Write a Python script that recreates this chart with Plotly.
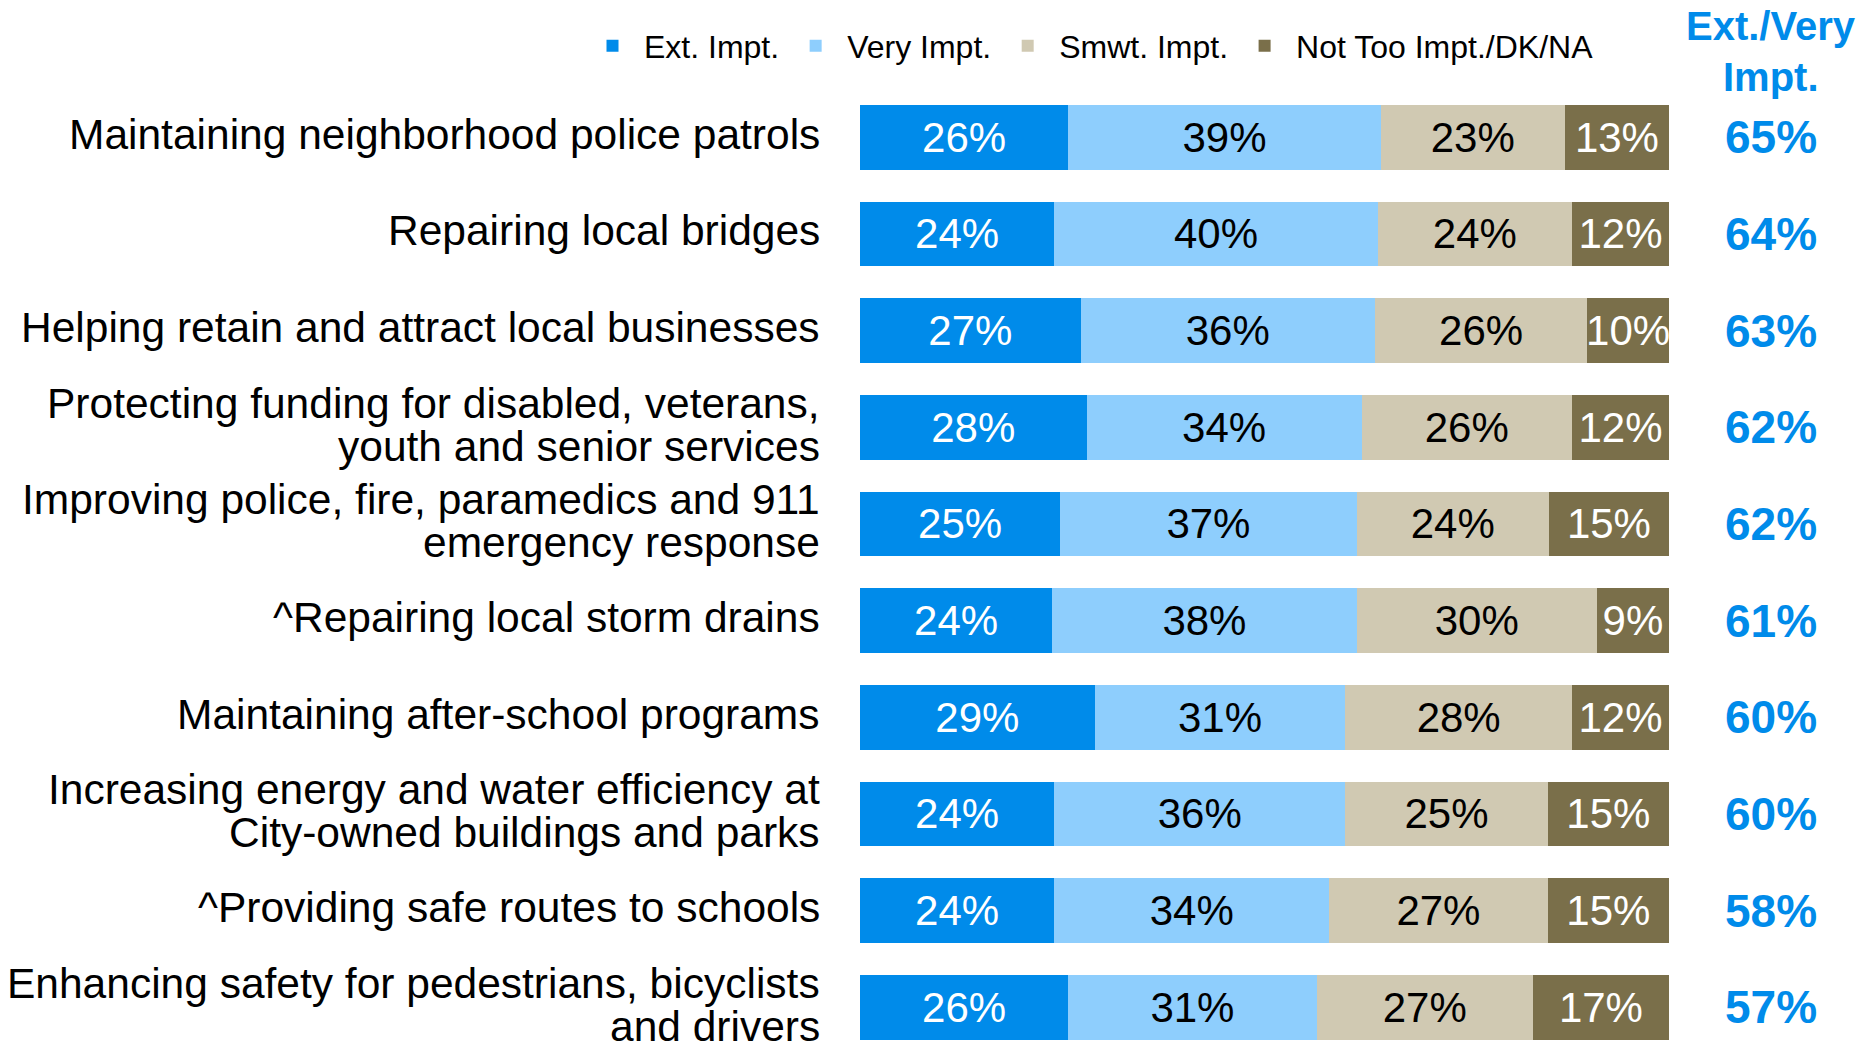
import plotly.graph_objects as go

categories = [
    "Maintaining neighborhood police patrols",
    "Repairing local bridges",
    "Helping retain and attract local businesses",
    "Protecting funding for disabled, veterans,<br>youth and senior services",
    "Improving police, fire, paramedics and 911<br>emergency response",
    "^Repairing local storm drains",
    "Maintaining after-school programs",
    "Increasing energy and water efficiency at<br>City-owned buildings and parks",
    "^Providing safe routes to schools",
    "Enhancing safety for pedestrians, bicyclists<br>and drivers",
]
ext_impt = [26, 24, 27, 28, 25, 24, 29, 24, 24, 26]
very_impt = [39, 40, 36, 34, 37, 38, 31, 36, 34, 31]
smwt_impt = [23, 24, 26, 26, 24, 30, 28, 25, 27, 27]
not_too = [13, 12, 10, 12, 15, 9, 12, 15, 15, 17]
ext_very_total = [65, 64, 63, 62, 62, 61, 60, 60, 58, 57]

series_names = ["Ext. Impt.", "Very Impt.", "Smwt. Impt.", "Not Too Impt./DK/NA"]
series_values = [ext_impt, very_impt, smwt_impt, not_too]
series_colors = ["#008BEA", "#8ECEFD", "#D0C9B2", "#7A6F4A"]
text_colors = ["white", "black", "black", "white"]

FONT = "Liberation Sans, Arial, sans-serif"
OFF = 8  # page body margin in the browser
W, H = 1864 - OFF, 1043 - OFF
ML, MR, MT, MB = 860 - OFF, 195, 89 - OFF, 0
plot_w = W - ML - MR
plot_h = H - MT - MB

fig = go.Figure()
for name, vals, col, tcol in zip(series_names, series_values, series_colors, text_colors):
    fig.add_trace(go.Bar(
        y=categories, x=vals, name=name, orientation="h",
        marker=dict(color=col, line=dict(width=0)),
        text=[f"{v}%" for v in vals], textposition="inside",
        insidetextanchor="middle", textangle=0, constraintext="none",
        textfont=dict(family=FONT, size=42, color=tcol),
        hoverinfo="name+x",
    ))

right_x = (1771 - OFF - ML) / plot_w

annotations = []
for cat, tot in zip(categories, ext_very_total):
    lines = cat.split("<br>")
    if len(lines) == 1:
        shifts = [3]
    else:
        shifts = [24, -19]
    for line, sh in zip(lines, shifts):
        annotations.append(dict(
            text=line, xref="paper", x=0, xanchor="right", xshift=-38,
            yref="y", y=cat, yanchor="middle", yshift=sh, showarrow=False,
            font=dict(family=FONT, size=42.5, color="black"),
        ))
    annotations.append(dict(
        text=f"<b>{tot}%</b>", xref="paper", x=right_x, xanchor="center",
        yref="y", y=cat, yanchor="middle", yshift=0, showarrow=False,
        font=dict(family=FONT, size=46, color="#008BEA"),
    ))

for txt, py in [("Ext./Very", 26), ("Impt.", 77)]:
    annotations.append(dict(
        text=f"<b>{txt}</b>", xref="paper", x=right_x, xanchor="center",
        yref="paper", y=(H - MB - (py - OFF)) / plot_h, yanchor="middle", showarrow=False,
        font=dict(family=FONT, size=40, color="#008BEA"),
    ))

fig.update_layout(
    width=W, height=H,
    barmode="stack", barnorm="percent", bargap=0.33,
    plot_bgcolor="white", paper_bgcolor="white",
    margin=dict(l=ML, r=MR, t=MT, b=MB, autoexpand=False),
    xaxis=dict(range=[0, 100], visible=False, fixedrange=True),
    yaxis=dict(range=[9.37, -0.5], showticklabels=False, showgrid=False,
               zeroline=False, showline=False, ticks=""),
    legend=dict(orientation="h", x=(581 - OFF - ML) / plot_w, xanchor="left",
                y=(H - MB - (46 - OFF)) / plot_h, yanchor="middle",
                font=dict(family=FONT, size=32, color="black"),
                itemwidth=53,
                traceorder="normal", bgcolor="rgba(0,0,0,0)"),
    annotations=annotations,
    showlegend=True,
)

fig.write_html("out.html")
